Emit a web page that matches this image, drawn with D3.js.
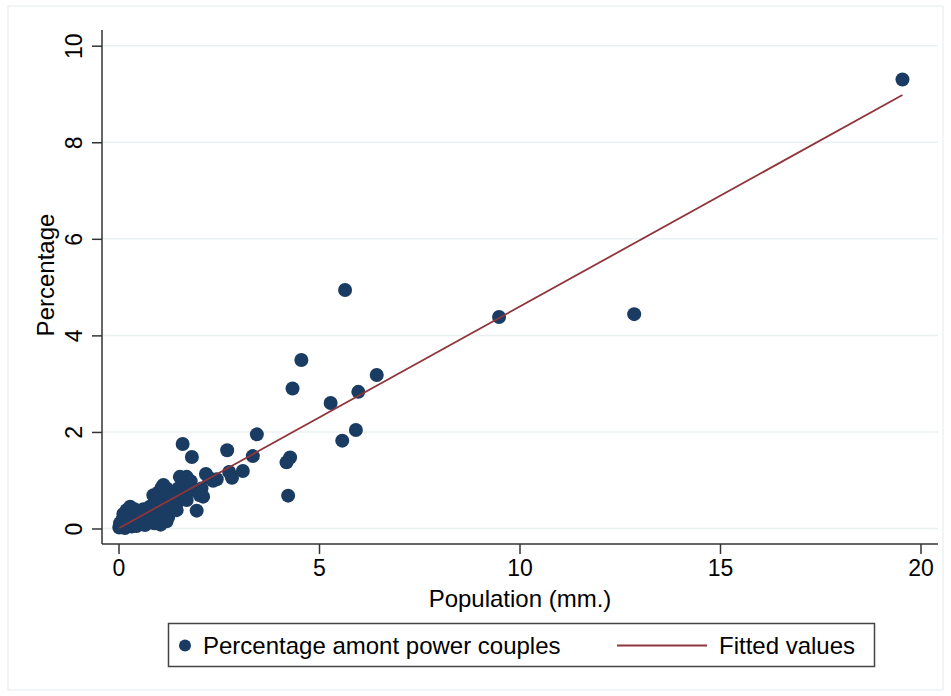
<!DOCTYPE html>
<head>
  <meta charset="utf-8">
  <script src="https://d3js.org/d3.v7.min.js"></script>
  <style>
    body { margin:0; background:#fff; }
    text { font-family: "Liberation Sans", Arial, Helvetica, sans-serif; fill:#000; }
  </style>
</head>

<body>
<script>
  // population (millions) and percentage among power couples
  const popX = [19.55, 12.86, 9.49, 5.65, 4.56, 6.44, 4.34, 5.98, 5.29, 5.92, 5.58, 3.45, 2.71, 3.35,
    4.28, 4.19, 4.23, 3.10, 2.76, 2.83, 1.60, 1.83, 2.18, 2.36, 2.11, 2.07, 1.95, 1.70, 1.74, 1.66,
    1.87, 2.03, 1.53, 1.49, 1.41, 1.12, 1.20, 1.08, 0.87, 0.91, 1.12, 1.20, 1.45, 1.53, 1.70, 0.29,
    0.20, 0.20, 0.12, 0.04, 0.02, 0.49, 0.74, 0.99, 1.24, 0.66, 0.91, 1.16, 0.33, 0.16, 0.95, 1.28,
    1.45, 1.28, 1.03, 1.45, 0.10, 0.22, 0.28, 0.40, 0.45, 0.55, 0.60, 0.70, 0.80, 0.85, 0.35, 0.25,
    0.15, 0.30, 0.50, 0.62, 0.78, 1.00, 1.10, 1.35, 1.60, 1.00, 2.25, 2.45, 1.80, 0.05, 0.08, 0.12,
    0.40, 1.05, 1.20];
  const pctY = [9.30, 4.44, 4.38, 4.94, 3.49, 3.18, 2.90, 2.83, 2.60, 2.04, 1.82, 1.95, 1.62, 1.50,
    1.47, 1.37, 0.68, 1.19, 1.17, 1.05, 1.75, 1.48, 1.13, 0.99, 0.66, 0.83, 0.37, 1.07, 0.90, 0.76,
    0.80, 0.69, 1.07, 0.83, 0.69, 0.90, 0.83, 0.85, 0.69, 0.59, 0.66, 0.52, 0.52, 0.66, 0.59, 0.45,
    0.38, 0.31, 0.21, 0.11, 0.02, 0.24, 0.31, 0.35, 0.24, 0.07, 0.11, 0.18, 0.04, 0.01, 0.59, 0.66,
    0.56, 0.45, 0.31, 0.38, 0.05, 0.08, 0.15, 0.12, 0.05, 0.15, 0.22, 0.18, 0.25, 0.12, 0.25, 0.22,
    0.15, 0.32, 0.35, 0.40, 0.45, 0.50, 0.42, 0.62, 0.85, 0.75, 1.05, 1.02, 0.98, 0.06, 0.15, 0.30,
    0.40, 0.08, 0.15];

  // fitted values line, end points
  const fitX = [0.02, 19.55];
  const fitY = [0.01, 8.98];

  const xTicks = [0, 5, 10, 15, 20];
  const yTicks = [0, 2, 4, 6, 8, 10];

  const navy = "#1a3c62", maroon = "#90353b";

  const W = 951, H = 696;
  const plot = {left: 102, right: 938, top: 30, bottom: 544};

  const svg = d3.select("body").append("svg")
    .attr("width", W)
    .attr("height", H);

  // faint outer frame
  svg.append("rect")
    .attr("x", 8).attr("y", 6).attr("width", 935).attr("height", 684)
    .attr("fill", "none").attr("stroke", "#eef2f4").attr("stroke-width", 1.5);

  const x = d3.scaleLinear().domain([0, 20]).range([118.5, 920.5]);
  const y = d3.scaleLinear().domain([0, 10]).range([528.5, 45.7]);

  // gridlines
  svg.append("g").selectAll("line")
    .data(yTicks)
    .enter().append("line")
    .attr("x1", plot.left).attr("x2", plot.right)
    .attr("y1", d => y(d)).attr("y2", d => y(d))
    .attr("stroke", "#eaf1f2").attr("stroke-width", 1.5);

  // points
  const pts = popX.map((v, i) => ({x: v, y: pctY[i]}));
  svg.append("g").selectAll("circle")
    .data(pts)
    .enter().append("circle")
    .attr("cx", d => x(d.x))
    .attr("cy", d => y(d.y))
    .attr("r", 7)
    .attr("fill", navy);

  // fitted line
  svg.append("path")
    .datum(fitX.map((v, i) => [v, fitY[i]]))
    .attr("d", d3.line().x(d => x(d[0])).y(d => y(d[1])))
    .attr("fill", "none").attr("stroke", maroon).attr("stroke-width", 1.8);

  // x axis
  const xAxis = svg.append("g")
    .attr("transform", "translate(0," + plot.bottom + ")")
    .call(d3.axisBottom(x).tickValues(xTicks).tickSize(10).tickPadding(6).tickSizeOuter(0));
  xAxis.select(".domain").attr("d", "M" + plot.left + ",0H" + plot.right);
  xAxis.selectAll("line, path").attr("stroke", "#333").attr("stroke-width", 1.5);
  xAxis.selectAll("text").attr("font-size", 23).attr("fill", "#000")
    .style("font-family", "'Liberation Sans', Arial, sans-serif");

  // y axis
  const yAxis = svg.append("g")
    .attr("transform", "translate(" + plot.left + ",0)")
    .call(d3.axisLeft(y).tickValues(yTicks).tickSize(10).tickPadding(6).tickSizeOuter(0));
  yAxis.select(".domain").attr("d", "M0," + plot.top + "V" + plot.bottom);
  yAxis.selectAll("line, path").attr("stroke", "#333").attr("stroke-width", 1.5);
  yAxis.selectAll("text")
    .attr("font-size", 23).attr("fill", "#000")
    .style("font-family", "'Liberation Sans', Arial, sans-serif")
    .attr("x", null).attr("dy", null)
    .attr("text-anchor", "middle")
    .attr("transform", "translate(-20,0) rotate(-90)");

  // axis titles
  svg.append("text")
    .attr("x", (plot.left + plot.right) / 2).attr("y", 607)
    .attr("text-anchor", "middle").attr("font-size", 24)
    .text("Population (mm.)");
  svg.append("text")
    .attr("transform", "translate(54," + ((plot.top + plot.bottom) / 2 - 12) + ") rotate(-90)")
    .attr("text-anchor", "middle").attr("font-size", 24)
    .text("Percentage");

  // legend
  const leg = svg.append("g");
  leg.append("rect")
    .attr("x", 168.5).attr("y", 623.5).attr("width", 706).attr("height", 43)
    .attr("fill", "#fff").attr("stroke", "#444").attr("stroke-width", 1.5);
  leg.append("circle").attr("cx", 185).attr("cy", 645.5).attr("r", 6).attr("fill", navy);
  leg.append("text").attr("x", 203).attr("y", 654).attr("font-size", 24)
    .text("Percentage amont power couples");
  leg.append("line").attr("x1", 617).attr("x2", 707).attr("y1", 645.5).attr("y2", 645.5)
    .attr("stroke", maroon).attr("stroke-width", 1.8);
  leg.append("text").attr("x", 719).attr("y", 654).attr("font-size", 24)
    .text("Fitted values");
</script>
</body>
